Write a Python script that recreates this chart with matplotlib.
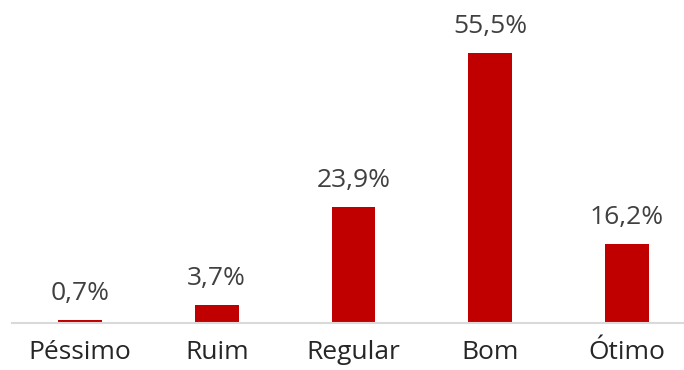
import matplotlib
matplotlib.use("Agg")
import matplotlib.pyplot as plt

categorias = ["Péssimo", "Ruim", "Regular", "Bom", "Ótimo"]
valores = [0.7, 3.7, 23.9, 55.5, 16.2]
rotulos = ["0,7%", "3,7%", "23,9%", "55,5%", "16,2%"]

plt.rcParams['font.family'] = ['Open Sans', 'DejaVu Sans']

fig = plt.figure(figsize=(6.84, 3.70), dpi=100)
ax = fig.add_axes([11.5 / 684, 47 / 370, 1.0, 292 / 370])

x = range(len(categorias))
barras = ax.bar(x, valores, width=0.32, color="#C00000")

for b, r in zip(barras, rotulos):
    ax.annotate(r, (b.get_x() + b.get_width() / 2, b.get_height()),
                xytext=(0, 10), textcoords="offset points",
                ha="center", va="bottom", fontsize=19, color="#404040")

ax.set_xlim(-0.5, 4.5)
ax.set_ylim(0, 60)
ax.set_xticks(list(x))
ax.set_xticklabels(categorias, fontsize=19, color="#262626")
ax.tick_params(axis="x", length=0, pad=12)
ax.set_yticks([])
for s in ["top", "right", "left"]:
    ax.spines[s].set_visible(False)
ax.spines["bottom"].set_color("#D9D9D9")
ax.spines["bottom"].set_linewidth(1.5)

fig.savefig("out.png", dpi=100)
